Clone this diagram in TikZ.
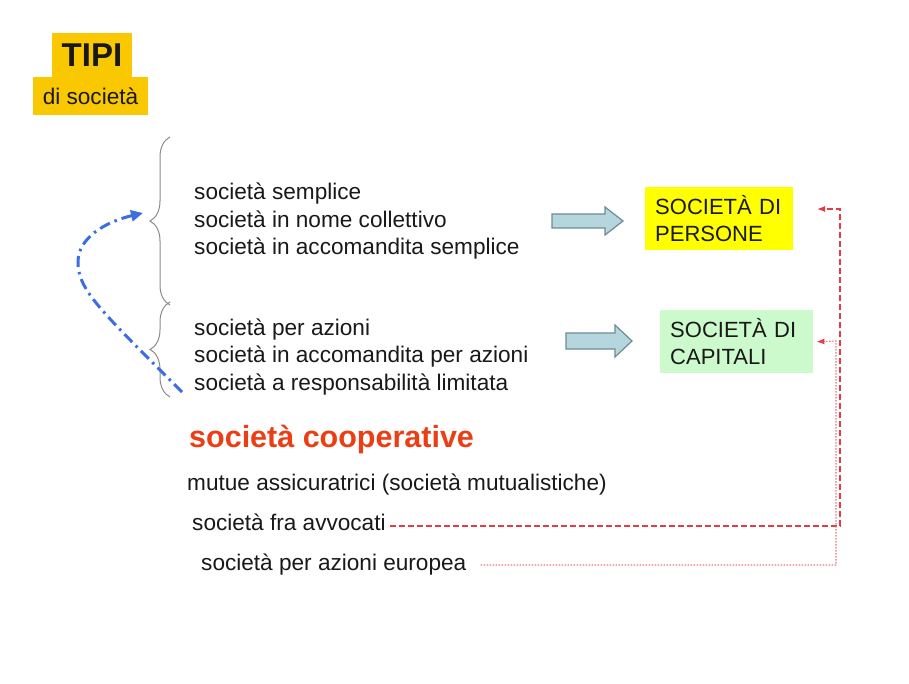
\documentclass[tikz,border=0pt]{standalone}
\usepackage{fontspec}
\setmainfont{Liberation Sans}
\usetikzlibrary{arrows.meta,decorations.pathreplacing}
\definecolor{tipiyel}{RGB}{250,200,0}
\definecolor{persyel}{RGB}{255,255,0}
\definecolor{capgreen}{RGB}{204,250,204}
\definecolor{coopred}{RGB}{236,62,20}
\definecolor{lineblue}{RGB}{60,110,225}
\definecolor{dashred}{RGB}{228,60,70}
\definecolor{dotred}{RGB}{228,120,125}
\definecolor{arrfill}{RGB}{182,214,222}
\definecolor{arrdraw}{RGB}{110,140,150}
\definecolor{txtcol}{RGB}{25,25,25}
\tikzset{
  txt/.style={anchor=base west, inner sep=0pt, text=txtcol, font=\fontsize{22.6pt}{27pt}\selectfont},
  catbox/.style={anchor=north west, inner xsep=10pt, inner ysep=0pt, minimum height=63pt, text width=128pt, align=left, text=txtcol, font=\fontsize{22pt}{27pt}\selectfont},
  bracestyle/.style={draw=gray!90, line width=1pt, decorate, decoration={brace, amplitude=20pt}},
  blockarrow/.style={fill=arrfill, draw=arrdraw, line width=1.2pt, line join=miter},
  redtip/.style={-{Latex[length=8pt,width=6pt,color=dashred]}},
  reddash/.style={draw=dashred, line width=1.1pt, dash pattern=on 6pt off 3pt, redtip},
  reddot/.style={draw=dotred, line width=1.1pt, dash pattern=on 1.5pt off 1.5pt, redtip},
  bluecurve/.style={draw=lineblue, line width=3pt, dash pattern=on 11pt off 5pt on 2.5pt off 5pt, -{Triangle[length=12pt,width=11pt]}}
}
\begin{document}
\begin{tikzpicture}[x=1pt,y=-1pt]
\useasboundingbox (0,0) rectangle (909,684);
\fill[white] (0,0) rectangle (909,684);

% title
\node[fill=tipiyel, minimum width=80pt, minimum height=44pt, inner sep=0pt,
      font=\fontsize{33pt}{36pt}\selectfont\bfseries, text=txtcol] (tipi) at (92,55) {TIPI};
\node[fill=tipiyel, minimum width=115pt, minimum height=38pt, inner sep=0pt,
      font=\fontsize{22.6pt}{27pt}\selectfont, text=txtcol] (disoc) at (90.5,96) {di società};

% braces
\draw[bracestyle] (170,305) -- (170,137);
\draw[bracestyle] (170,397) -- (170,302);

% lists
\node[txt] (ss) at (194,200) {società semplice};
\node[txt] (snc) at (194,227.5) {società in nome collettivo};
\node[txt] (sas) at (194,255) {società in accomandita semplice};
\node[txt] (spa) at (194,335) {società per azioni};
\node[txt] (sapa) at (194,362.5) {società in accomandita per azioni};
\node[txt] (srl) at (194,390) {società a responsabilità limitata};

\node[anchor=base west, inner sep=0pt, text=coopred, font=\fontsize{30.5pt}{34pt}\selectfont\bfseries] (coop) at (189,447) {società cooperative};
\node[txt] (mut) at (187,490) {mutue assicuratrici (società mutualistiche)};
\node[txt] (avv) at (192,530) {società fra avvocati};
\node[txt] (eur) at (201,570) {società per azioni europea};

% category boxes
\node[catbox, fill=persyel] (pers) at (645,187) {SOCIETÀ DI\\PERSONE};
\node[catbox, fill=capgreen, text width=133pt] (cap) at (660,310) {SOCIETÀ DI\\CAPITALI};

% block arrows
\draw[blockarrow] (552,214) -- (605,214) -- (605,207) -- (623,221) -- (605,235) -- (605,228) -- (552,228) -- cycle;
\draw[blockarrow] (566,333) -- (615,333) -- (615,325) -- (632,341) -- (615,357) -- (615,349) -- (566,349) -- cycle;

% blue dash-dot curve
\draw[bluecurve] (182,392) .. controls (100,310) and (78,290) .. (78,262)
                 .. controls (78,238) and (105,222) .. (143,213);

% red connectors
\coordinate (ptip) at (817,209);
\draw[reddash] ([shift={(4pt,4pt)}]avv.base east) -| (840,209) -- (ptip);
\draw[reddot] ([shift={(14pt,5pt)}]eur.base east) -| (836,341) -- ([xshift=3pt]cap.east);
\end{tikzpicture}
\end{document}
